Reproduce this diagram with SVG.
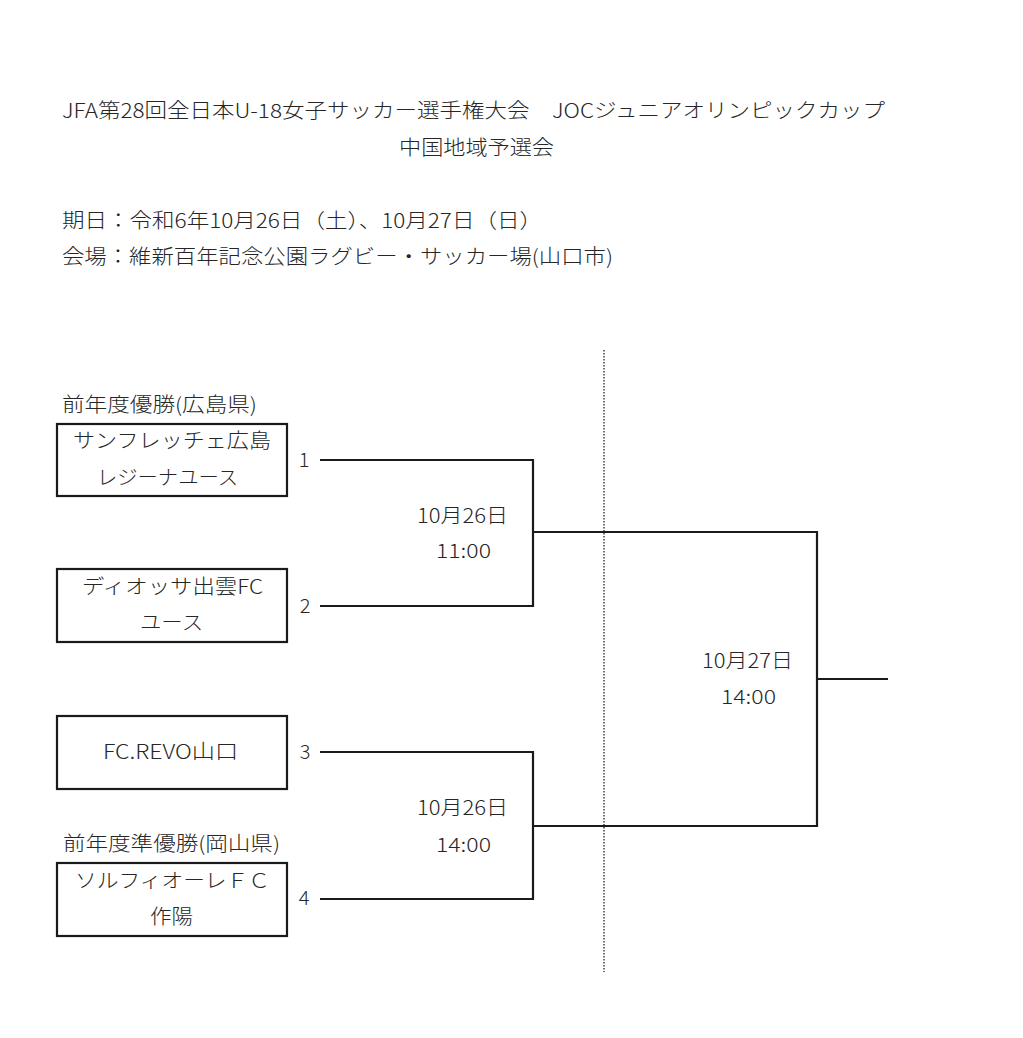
<svg xmlns="http://www.w3.org/2000/svg" width="1023" height="1038" viewBox="0 0 1023 1038">
<style>
text{font-family:"Noto Sans CJK JP","Noto Sans",sans-serif;font-size:20px;font-weight:300;fill:#262626;}
.c{text-anchor:middle;}
.box{fill:#fff;stroke:#1a1a1a;stroke-width:2.2;}
.ln{fill:none;stroke:#1a1a1a;stroke-width:2.2;}
.dot{stroke:#333;stroke-width:1.4;stroke-dasharray:1.5 1.5;}
</style>
<rect width="1023" height="1038" fill="#fff"/>
<g id="header">
<text x="62" y="118" textLength="823" lengthAdjust="spacingAndGlyphs">JFA第28回全日本U-18女子サッカー選手権大会　JOCジュニアオリンピックカップ</text>
<text x="399" y="155" textLength="155" lengthAdjust="spacingAndGlyphs">中国地域予選会</text>
<text x="62" y="228" textLength="480" lengthAdjust="spacingAndGlyphs">期日：令和6年10月26日（土）、10月27日（日）</text>
<text x="62" y="264" textLength="551" lengthAdjust="spacingAndGlyphs">会場：維新百年記念公園ラグビー・サッカー場(山口市)</text>
</g>
<line id="divider" class="dot" x1="604" y1="350" x2="604" y2="972"/>
<g id="team1">
<text x="62" y="412" textLength="195" lengthAdjust="spacingAndGlyphs">前年度優勝(広島県)</text>
<rect class="box" x="57" y="424" width="230" height="72"/>
<text x="73" y="448" textLength="198" lengthAdjust="spacingAndGlyphs">サンフレッチェ広島</text>
<text x="97" y="485" textLength="141" lengthAdjust="spacingAndGlyphs">レジーナユース</text>
<text x="304" y="467" class="c">1</text>
</g>
<g id="team2">
<rect class="box" x="57" y="569" width="230" height="73"/>
<text x="82" y="594" textLength="181" lengthAdjust="spacingAndGlyphs">ディオッサ出雲FC</text>
<text x="140" y="630" textLength="63" lengthAdjust="spacingAndGlyphs">ユース</text>
<text x="305" y="613" class="c">2</text>
</g>
<g id="team3">
<rect class="box" x="57" y="716" width="230" height="73"/>
<text x="103" y="759" textLength="135" lengthAdjust="spacingAndGlyphs">FC.REVO山口</text>
<text x="305" y="759" class="c">3</text>
</g>
<g id="team4">
<text x="63" y="851" textLength="217" lengthAdjust="spacingAndGlyphs">前年度準優勝(岡山県)</text>
<rect class="box" x="57" y="863" width="230" height="73"/>
<text x="75" y="888" textLength="195" lengthAdjust="spacingAndGlyphs">ソルフィオーレＦＣ</text>
<text x="150" y="924" textLength="43" lengthAdjust="spacingAndGlyphs">作陽</text>
<text x="304" y="905" class="c">4</text>
</g>
<g id="match1">
<text x="417" y="523" textLength="91" lengthAdjust="spacingAndGlyphs">10月26日</text>
<text x="436" y="558" textLength="55" lengthAdjust="spacingAndGlyphs">11:00</text>
</g>
<g id="match2">
<text x="417" y="815" textLength="91" lengthAdjust="spacingAndGlyphs">10月26日</text>
<text x="436" y="852" textLength="55" lengthAdjust="spacingAndGlyphs">14:00</text>
</g>
<g id="final">
<text x="702" y="668" textLength="91" lengthAdjust="spacingAndGlyphs">10月27日</text>
<text x="721" y="704" textLength="55" lengthAdjust="spacingAndGlyphs">14:00</text>
</g>
<g id="connectors">
<polyline class="ln" points="320,460 533,460 533,606 320,606"/>
<polyline class="ln" points="320,752 533,752 533,899 320,899"/>
<polyline class="ln" points="533,532 817,532 817,826 533,826"/>
<line class="ln" x1="817" y1="679" x2="888" y2="679"/>
</g>
</svg>
